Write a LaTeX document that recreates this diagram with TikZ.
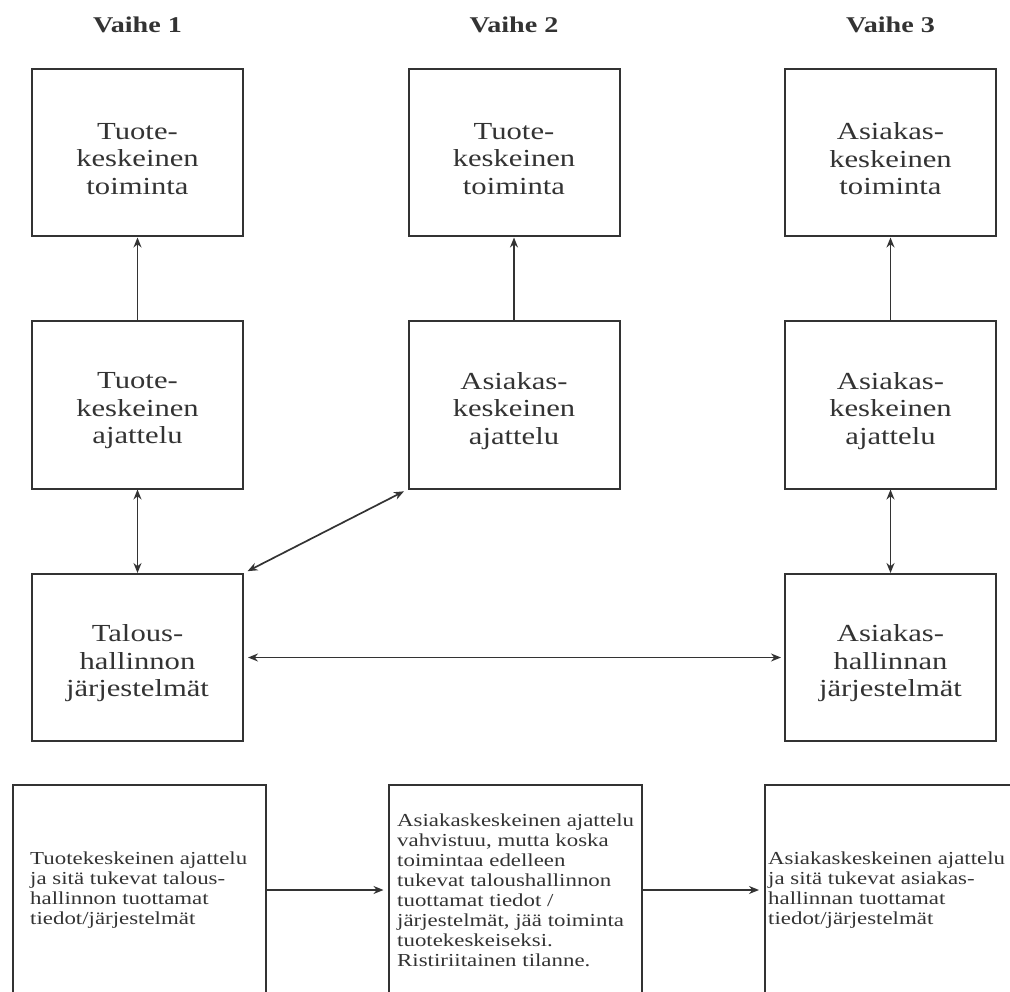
\documentclass[tikz,border=0pt]{standalone}
\usepackage{fontspec}
\setmainfont[FakeStretch=1.25]{Liberation Serif}
\usetikzlibrary{arrows.meta}
\definecolor{ink}{HTML}{333333}

\tikzset{
  pbox/.style={draw=ink, line width=2pt, inner sep=0pt,
               minimum width=211pt, minimum height=167pt},
  nbox/.style={draw=ink, line width=2pt, inner sep=0pt,
               minimum width=253pt, minimum height=211pt},
  lbl/.style={text=ink, inner sep=0pt, align=center,
              font=\fontsize{24.5}{27.5}\selectfont},
  note/.style={text=ink, inner sep=0pt, align=left, anchor=west,
               font=\fontsize{18.3}{20}\selectfont},
  head/.style={text=ink, inner sep=0pt, anchor=base,
               font=\fontsize{22.5}{26}\selectfont\bfseries},
  tip/.tip={Stealth[length=10pt,width=8pt]},
  arr/.style={draw=ink, line width=1.7pt, -tip},
  darr/.style={draw=ink, line width=1.7pt, tip-tip}
}

\begin{document}
\begin{tikzpicture}[x=1pt,y=-1pt]
  \useasboundingbox (0,0) rectangle (1010,992);
  \clip (0,0) rectangle (1010,992);

  % column headings
  \node[head] (h1) at (137.5,33) {Vaihe 1};
  \node[head] (h2) at (514,33) {Vaihe 2};
  \node[head] (h3) at (890.5,33) {Vaihe 3};

  % upper row: activity
  \node[pbox] (a1) at (137.5,153) {};
  \node[pbox] (a2) at (514,153) {};
  \node[pbox] (a3) at (890.5,153) {};
  \node[lbl] (ta1) at (137.5,159) {Tuote-\\keskeinen\\toiminta};
  \node[lbl] (ta2) at (514,159) {Tuote-\\keskeinen\\toiminta};
  \node[lbl] (ta3) at (890.5,159) {Asiakas-\\keskeinen\\toiminta};

  % middle row: thinking
  \node[pbox] (b1) at (137.5,405) {};
  \node[pbox] (b2) at (514,405) {};
  \node[pbox] (b3) at (890.5,405) {};
  \node[lbl] (tb1) at (137.5,411) {Tuote-\\keskeinen\\ajattelu};
  \node[lbl] (tb2) at (514,411) {Asiakas-\\keskeinen\\ajattelu};
  \node[lbl] (tb3) at (890.5,411) {Asiakas-\\keskeinen\\ajattelu};

  % lower row: systems
  \node[pbox] (c1) at (137.5,657.5) {};
  \node[pbox] (c3) at (890.5,657.5) {};
  \node[lbl] (tc1) at (137.5,663.5) {Talous-\\hallinnon\\järjestelmät};
  \node[lbl] (tc3) at (890.5,663.5) {Asiakas-\\hallinnan\\järjestelmät};

  % connectors between the boxes
  \draw[arr] (b1) -- (a1);
  \draw[arr] (b2) -- (a2);
  \draw[arr] (b3) -- (a3);
  \draw[darr] (b1) -- (c1);
  \draw[darr] (b3) -- (c3);
  \draw[darr, shorten <=4pt, shorten >=3pt] (c1.east) -- (c3.west);
  \draw[darr, shorten <=4pt, shorten >=4pt] (c1.north east) -- (b2.south west);

  % summary boxes along the bottom
  \node[nbox] (d1) at (139,890) {};
  \node[nbox] (d2) at (515,890) {};
  \node[nbox, minimum width=255pt] (d3) at (892.5,890) {};
  \node[note] (td1) at (30,890)
    {Tuotekeskeinen ajattelu\\ja sitä tukevat talous-\\hallinnon tuottamat\\tiedot/järjestelmät};
  \node[note] (td2) at (397,890)
    {Asiakaskeskeinen ajattelu\\vahvistuu, mutta koska\\toimintaa edelleen\\tukevat taloushallinnon\\tuottamat tiedot /\\järjestelmät, jää toiminta\\tuotekeskeiseksi.\\Ristiriitainen tilanne.};
  \node[note] (td3) at (768,890)
    {Asiakaskeskeinen ajattelu\\ja sitä tukevat asiakas-\\hallinnan tuottamat\\tiedot/järjestelmät};

  \draw[arr, shorten >=4pt] (d1.east) -- (d2.west);
  \draw[arr, shorten >=5pt] (d2.east) -- (d3.west);
\end{tikzpicture}
\end{document}
